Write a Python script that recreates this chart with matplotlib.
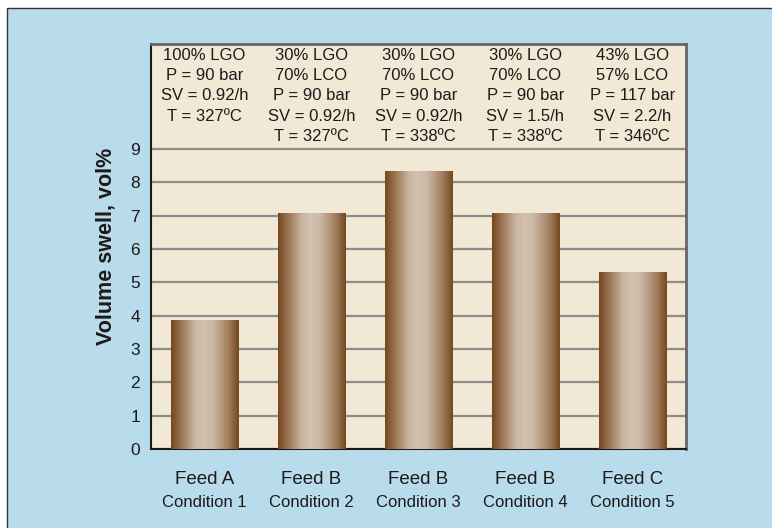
import numpy as np
import matplotlib.pyplot as plt
from matplotlib.colors import LinearSegmentedColormap
from matplotlib.patches import Rectangle
import matplotlib.transforms as mtransforms

plt.rcParams['font.family'] = ['Liberation Sans', 'DejaVu Sans']

# Volume swell per feed / run condition
feeds = ['Feed A', 'Feed B', 'Feed B', 'Feed B', 'Feed C']
conditions = ['Condition 1', 'Condition 2', 'Condition 3', 'Condition 4', 'Condition 5']
swell = [3.87, 7.09, 8.34, 7.08, 5.31]
run_notes = [
    '100% LGO\nP = 90 bar\nSV = 0.92/h\nT = 327ºC',
    '30% LGO\n70% LCO\nP = 90 bar\nSV = 0.92/h\nT = 327ºC',
    '30% LGO\n70% LCO\nP = 90 bar\nSV = 0.92/h\nT = 338ºC',
    '30% LGO\n70% LCO\nP = 90 bar\nSV = 1.5/h\nT = 338ºC',
    '43% LGO\n57% LCO\nP = 117 bar\nSV = 2.2/h\nT = 346ºC',
]
yticks = list(range(0, 10))

blue_bg = '#b9dcec'
panel_bg = '#f1e8d5'
text_col = '#1c1a1a'

fig = plt.figure(figsize=(7.72, 5.28), dpi=100, facecolor='white')
# blue panel with a thin frame on the left and top
fig.patches.append(Rectangle((7 / 772, -0.1), 1.2, 1 - 8 / 528 + 0.1,
                             transform=fig.transFigure, facecolor=blue_bg,
                             edgecolor='#333333', linewidth=1.0, zorder=-10))

ax = fig.add_axes([151 / 772, 1 - 449 / 528, 535 / 772, 405 / 528])
ax.set_facecolor(panel_bg)

bar_cmap = LinearSegmentedColormap.from_list('bar_shade', [
    (0.0, '#74471f'), (0.12, '#946c4a'), (0.35, '#c9b5a1'), (0.48, '#d3c2b1'),
    (0.62, '#cbb7a4'), (0.85, '#a17d5d'), (1.0, '#74471f')])
grad = np.linspace(0, 1, 256).reshape(1, -1)

x = np.arange(len(swell))
width = 0.635
bars = ax.bar(x, swell, width=width, color='#b89a80', zorder=3, linewidth=0)
for b in bars:
    im = ax.imshow(grad, cmap=bar_cmap, aspect='auto', zorder=3.5,
                   extent=(b.get_x(), b.get_x() + b.get_width(), 0, b.get_height()))
    im.set_clip_path(b)

ax.set_xlim(-0.5, 4.5)
ax.set_ylim(0, 12.15)
ax.set_yticks(yticks)
ax.set_yticklabels([str(t) for t in yticks], fontsize=12.5, color=text_col)
ax.yaxis.grid(True, color='#8c8c8c', linewidth=1.6, zorder=1)
ax.set_axisbelow(True)
ax.tick_params(axis='y', length=0, pad=8)
ax.tick_params(axis='x', length=0)

ax.set_xticks(x)
ax.set_xticklabels([''] * len(x))
for i in x:
    ax.text(i, -0.9, feeds[i], ha='center', va='center', fontsize=13.5, color=text_col)
    ax.text(i, -1.6, conditions[i], ha='center', va='center', fontsize=12, color=text_col)

# run conditions listed above each bar
trans = mtransforms.blended_transform_factory(ax.transData, ax.transAxes)
for i, note in enumerate(run_notes):
    ax.text(i, 0.99, note, transform=trans, ha='center', va='top',
            fontsize=12, linespacing=1.43, color=text_col)

ax.set_ylabel('Volume swell, vol%', fontsize=15.5, fontweight='bold',
              color=text_col, labelpad=10)

for side in ['left', 'bottom']:
    ax.spines[side].set_color('#1a1a1a')
    ax.spines[side].set_linewidth(1.5)
for side in ['top', 'right']:
    ax.spines[side].set_color('#666666')
    ax.spines[side].set_linewidth(2)

fig.savefig('out.png', dpi=100, facecolor=fig.get_facecolor())
